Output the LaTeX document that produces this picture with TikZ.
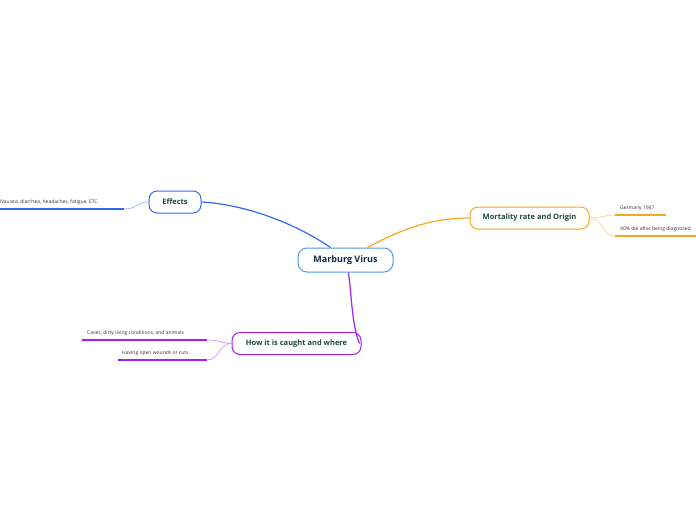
\documentclass[tikz,border=0pt]{standalone}
\usepackage{fontspec}
\setmainfont{Open Sans}
\definecolor{cblue}{HTML}{2F6BEF}
\definecolor{corange}{HTML}{F5A623}
\definecolor{cpurple}{HTML}{A21FF0}
\definecolor{ccentral}{HTML}{4A9EE0}
\definecolor{ctext}{HTML}{1E4A3A}
\definecolor{cnavy}{HTML}{122B4F}
\begin{document}
\begin{tikzpicture}[x=1pt,y=-1pt,
  topic/.style={draw=#1,line width=1pt,rounded corners=8pt,fill=white,text=ctext,font=\fontsize{7.5}{9}\selectfont\bfseries,inner sep=0pt,minimum height=22pt},
  leaf/.style={font=\fontsize{5}{6}\selectfont,text=black!80,inner sep=0pt,anchor=base west}]
\useasboundingbox (0,0) rectangle (696,520);
\node[draw=ccentral,line width=1pt,rounded corners=9pt,fill=white,text=cnavy,font=\fontsize{9}{11}\selectfont\bfseries,minimum width=95pt,minimum height=24pt,inner sep=0pt] (c) at (345.5,260) {Marburg Virus};
\node[topic=cblue,minimum width=52pt] (e) at (175,202) {Effects};
\node[topic=corange,minimum width=119pt] (m) at (529.5,218) {Mortality rate and Origin};
\node[topic=cpurple,minimum width=129pt] (h) at (296.5,343.5) {How it is caught and where};
% main connectors
\draw[cblue,line width=1.2pt] ([xshift=-15pt]c.north) .. controls (290,220) and (240,204) .. (e.east);
\draw[corange,line width=1.2pt] ([xshift=22pt]c.north) .. controls (400,230) and (430,218) .. (m.west);
\draw[cpurple,line width=1.2pt] ([xshift=3pt]c.south) .. controls (352,300) and (352,325) .. ([xshift=-2pt]h.east);
% leaves
\node[leaf] (e1) at (0,203) {Nausea, diarrhea, headaches, fatigue, ETC.};
\coordinate (e1a) at (0,209); \coordinate (e1b) at (124,209);
\draw[cblue,line width=1.2pt] (e1a) -- (e1b);
\draw[cblue!50,line width=0.7pt] (e1b) .. controls (138,209) and (135,202) .. (e.west);
\node[leaf] (m1) at (620,209) {Germany 1967};
\coordinate (m1a) at (615,215); \coordinate (m1b) at (666,215);
\draw[corange,line width=1.2pt] (m1a) -- (m1b);
\node[leaf] (m2) at (620,230) {90\% die after being diagnosed};
\coordinate (m2a) at (615,236); \coordinate (m2b) at (700,236);
\draw[corange,line width=1.2pt] (m2a) -- (m2b);
\draw[corange!50,line width=0.7pt] (m.east) .. controls (603,218) and (603,215) .. (m1a);
\draw[corange!50,line width=0.7pt] (m.east) .. controls (603,218) and (603,236) .. (m2a);
\node[leaf] (h1) at (87,334) {Caves, dirty living conditions, and animals};
\coordinate (h1a) at (82,340); \coordinate (h1b) at (207,340);
\draw[cpurple,line width=1.2pt] (h1a) -- (h1b);
\node[leaf] (h2) at (122,354) {Having open wounds or cuts.};
\coordinate (h2a) at (118,360); \coordinate (h2b) at (207,360);
\draw[cpurple,line width=1.2pt] (h2a) -- (h2b);
\draw[cpurple!50,line width=0.7pt] (h1b) .. controls (220,340) and (220,343) .. (h.west);
\draw[cpurple!50,line width=0.7pt] (h2b) .. controls (220,360) and (218,343) .. (h.west);
\end{tikzpicture}
\end{document}
